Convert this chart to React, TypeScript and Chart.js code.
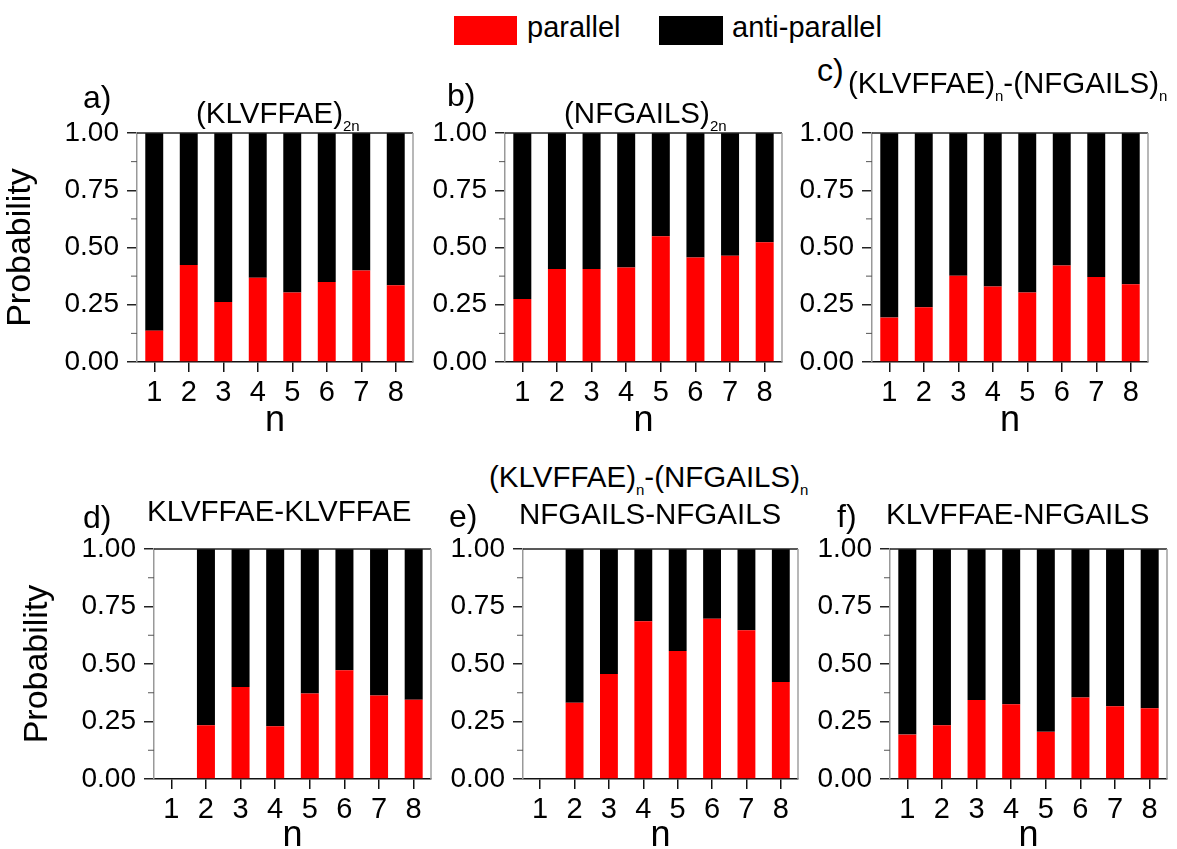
import React, { useEffect, useRef } from 'react';
import { Chart, registerables } from 'chart.js';

Chart.register(...registerables);

const categories = ['1', '2', '3', '4', '5', '6', '7', '8'];
const yTickValues = [0, 0.25, 0.5, 0.75, 1];
const minorTickValues = [0.125, 0.375, 0.625, 0.875];

const parallelA = [0.137, 0.424, 0.262, 0.368, 0.303, 0.349, 0.4, 0.335];
const antiA = [0.863, 0.576, 0.738, 0.632, 0.697, 0.651, 0.6, 0.665];

const parallelB = [0.275, 0.406, 0.406, 0.413, 0.549, 0.456, 0.464, 0.523];
const antiB = [0.725, 0.594, 0.594, 0.587, 0.451, 0.544, 0.536, 0.477];

const parallelC = [0.194, 0.239, 0.377, 0.33, 0.303, 0.421, 0.371, 0.339];
const antiC = [0.806, 0.761, 0.623, 0.67, 0.697, 0.579, 0.629, 0.661];

const parallelD = [null, 0.234, 0.4, 0.229, 0.372, 0.473, 0.363, 0.345];
const antiD = [null, 0.766, 0.6, 0.771, 0.628, 0.527, 0.637, 0.655];

const parallelE = [null, 0.332, 0.457, 0.686, 0.557, 0.697, 0.647, 0.422];
const antiE = [null, 0.668, 0.543, 0.314, 0.443, 0.303, 0.353, 0.578];

const parallelF = [0.193, 0.234, 0.344, 0.325, 0.205, 0.354, 0.316, 0.308];
const antiF = [0.807, 0.766, 0.656, 0.675, 0.795, 0.646, 0.684, 0.692];

const FONT = '"Liberation Sans", Arial, sans-serif';
const RED = '#ff0000';
const BLACK = '#000000';

const framePlugin = {
  id: 'frameMinor',
  afterDraw(chart: any) {
    const { ctx, chartArea, scales } = chart;
    const { left, right, top, bottom } = chartArea;
    const y = scales.y;
    ctx.save();
    ctx.lineWidth = 1.5;
    ctx.strokeStyle = '#222';
    ctx.beginPath();
    ctx.moveTo(left, top);
    ctx.lineTo(right, top);
    ctx.stroke();
    ctx.strokeStyle = '#a0a0a0';
    ctx.beginPath();
    ctx.moveTo(right, top);
    ctx.lineTo(right, bottom);
    ctx.stroke();
    ctx.strokeStyle = '#555';
    ctx.lineWidth = 1;
    minorTickValues.forEach((v) => {
      const py = y.getPixelForValue(v);
      ctx.beginPath();
      ctx.moveTo(left - 6, py);
      ctx.lineTo(left, py);
      ctx.stroke();
    });
    ctx.restore();
  },
};

type PanelProps = {
  parallel: (number | null)[];
  anti: (number | null)[];
  showYTitle: boolean;
  plotLeft: number;
  plotTop: number;
  plotW: number;
  plotH: number;
  yWidth: number;
  xHeight: number;
};

const TOP_PAD = 30;
const RIGHT_PAD = 10;

function Panel({ parallel, anti, showYTitle, plotLeft, plotTop, plotW, plotH, yWidth, xHeight }: PanelProps) {
  const ref = useRef<HTMLCanvasElement>(null);
  const width = yWidth + plotW + RIGHT_PAD;
  const height = TOP_PAD + plotH + xHeight;
  useEffect(() => {
    if (!ref.current) return;
    const chart = new Chart(ref.current, {
      type: 'bar',
      data: {
        labels: categories,
        datasets: [
          {
            label: 'parallel',
            data: parallel as any,
            backgroundColor: RED,
            borderWidth: 0,
            barPercentage: 0.52,
            categoryPercentage: 1,
          },
          {
            label: 'anti-parallel',
            data: anti as any,
            backgroundColor: BLACK,
            borderWidth: 0,
            barPercentage: 0.52,
            categoryPercentage: 1,
          },
        ],
      },
      options: {
        responsive: false,
        animation: false,
        devicePixelRatio: 1,
        layout: { padding: { top: TOP_PAD, right: RIGHT_PAD, left: 0, bottom: 0 } },
        plugins: {
          legend: { display: false },
          tooltip: { enabled: false },
          title: { display: false },
        },
        scales: {
          x: {
            stacked: true,
            offset: true,
            grid: {
              display: true,
              drawOnChartArea: false,
              drawTicks: true,
              tickLength: 10,
              offset: false,
              color: '#111',
              lineWidth: 1.5,
            },
            border: { display: true, color: '#111', width: 1.5 },
            ticks: {
              color: '#000',
              font: { family: FONT, size: 29 },
              padding: 4,
              maxRotation: 0,
              autoSkip: false,
            },
            title: {
              display: true,
              text: 'n',
              color: '#000',
              font: { family: FONT, size: 36, lineHeight: 1 },
              padding: { top: 0, bottom: 0 },
            },
            afterFit: (s: any) => {
              s.height = xHeight;
            },
          } as any,
          y: {
            stacked: true,
            min: 0,
            max: 1,
            afterBuildTicks: (s: any) => {
              s.ticks = yTickValues.map((v) => ({ value: v }));
            },
            ticks: {
              color: '#000',
              font: { family: FONT, size: 28 },
              padding: 8,
              callback: (v: any) => Number(v).toFixed(2),
            },
            grid: {
              drawOnChartArea: false,
              drawTicks: true,
              tickLength: 10,
              tickColor: '#222',
              lineWidth: 1.5,
            },
            border: { display: true, color: '#999', width: 1.5 },
            title: {
              display: showYTitle,
              text: 'Probability',
              color: '#000',
              font: { family: FONT, size: 34, lineHeight: 1 },
              padding: { top: 4, bottom: 0 },
            },
            afterFit: (s: any) => {
              s.width = yWidth;
            },
          } as any,
        },
      },
      plugins: [framePlugin],
    });
    return () => chart.destroy();
  }, []);
  return (
    <canvas
      ref={ref}
      width={width}
      height={height}
      style={{
        position: 'absolute',
        left: plotLeft - yWidth,
        top: plotTop - TOP_PAD,
        width,
        height,
      }}
    />
  );
}

function Txt({ x, base, size, children }: { x: number; base: number; size: number; children: any }) {
  return (
    <div
      style={{
        position: 'absolute',
        left: x,
        top: base - 0.8465 * size,
        fontSize: size,
        lineHeight: `${size}px`,
        fontFamily: FONT,
        whiteSpace: 'nowrap',
        color: '#000',
      }}
    >
      {children}
    </div>
  );
}

function Sub({ children }: { children: any }) {
  return (
    <span style={{ fontSize: 15, lineHeight: 1, position: 'relative', top: 8 }}>{children}</span>
  );
}

const TITLE = 29.5;
const LABEL = 32;

export default function App() {
  return (
    <div
      style={{
        position: 'absolute',
        left: 0,
        top: 0,
        width: 1177,
        height: 849,
        overflow: 'hidden',
        background: '#fff',
      }}
    >
      {/* Legend */}
      <div style={{ position: 'absolute', left: 454, top: 16, width: 63, height: 29, background: RED }} />
      <Txt x={527} base={38} size={29}>parallel</Txt>
      <div style={{ position: 'absolute', left: 659, top: 16, width: 64, height: 29, background: BLACK }} />
      <Txt x={732} base={38} size={29}>anti-parallel</Txt>

      {/* Top row */}
      <Panel parallel={parallelA} anti={antiA} showYTitle plotLeft={137} plotTop={133} plotW={276} plotH={229} yWidth={137} xHeight={77} />
      <Panel parallel={parallelB} anti={antiB} showYTitle={false} plotLeft={505} plotTop={133} plotW={277} plotH={229} yWidth={100} xHeight={77} />
      <Panel parallel={parallelC} anti={antiC} showYTitle={false} plotLeft={872} plotTop={133} plotW={276} plotH={229} yWidth={100} xHeight={77} />

      {/* Bottom row */}
      <Panel parallel={parallelD} anti={antiD} showYTitle plotLeft={154} plotTop={549} plotW={277} plotH={230} yWidth={137} xHeight={75} />
      <Panel parallel={parallelE} anti={antiE} showYTitle={false} plotLeft={523} plotTop={549} plotW={275} plotH={230} yWidth={100} xHeight={75} />
      <Panel parallel={parallelF} anti={antiF} showYTitle={false} plotLeft={890} plotTop={549} plotW={277} plotH={230} yWidth={100} xHeight={75} />

      {/* Panel labels and titles */}
      <Txt x={83} base={108} size={LABEL}>a)</Txt>
      <Txt x={196} base={123} size={TITLE}>(KLVFFAE)<Sub>2n</Sub></Txt>
      <Txt x={447} base={106} size={LABEL}>b)</Txt>
      <Txt x={564} base={123} size={TITLE}>(NFGAILS)<Sub>2n</Sub></Txt>
      <Txt x={817} base={81} size={LABEL}>c)</Txt>
      <Txt x={848} base={93} size={TITLE}>(KLVFFAE)<Sub>n</Sub>-(NFGAILS)<Sub>n</Sub></Txt>

      <Txt x={83} base={528} size={LABEL}>d)</Txt>
      <Txt x={147} base={521} size={TITLE}>KLVFFAE-KLVFFAE</Txt>
      <Txt x={489} base={487} size={TITLE}>(KLVFFAE)<Sub>n</Sub>-(NFGAILS)<Sub>n</Sub></Txt>
      <Txt x={449} base={527} size={LABEL}>e)</Txt>
      <Txt x={519} base={524} size={TITLE}>NFGAILS-NFGAILS</Txt>
      <Txt x={837} base={527} size={LABEL}>f)</Txt>
      <Txt x={886} base={524} size={TITLE}>KLVFFAE-NFGAILS</Txt>
    </div>
  );
}
